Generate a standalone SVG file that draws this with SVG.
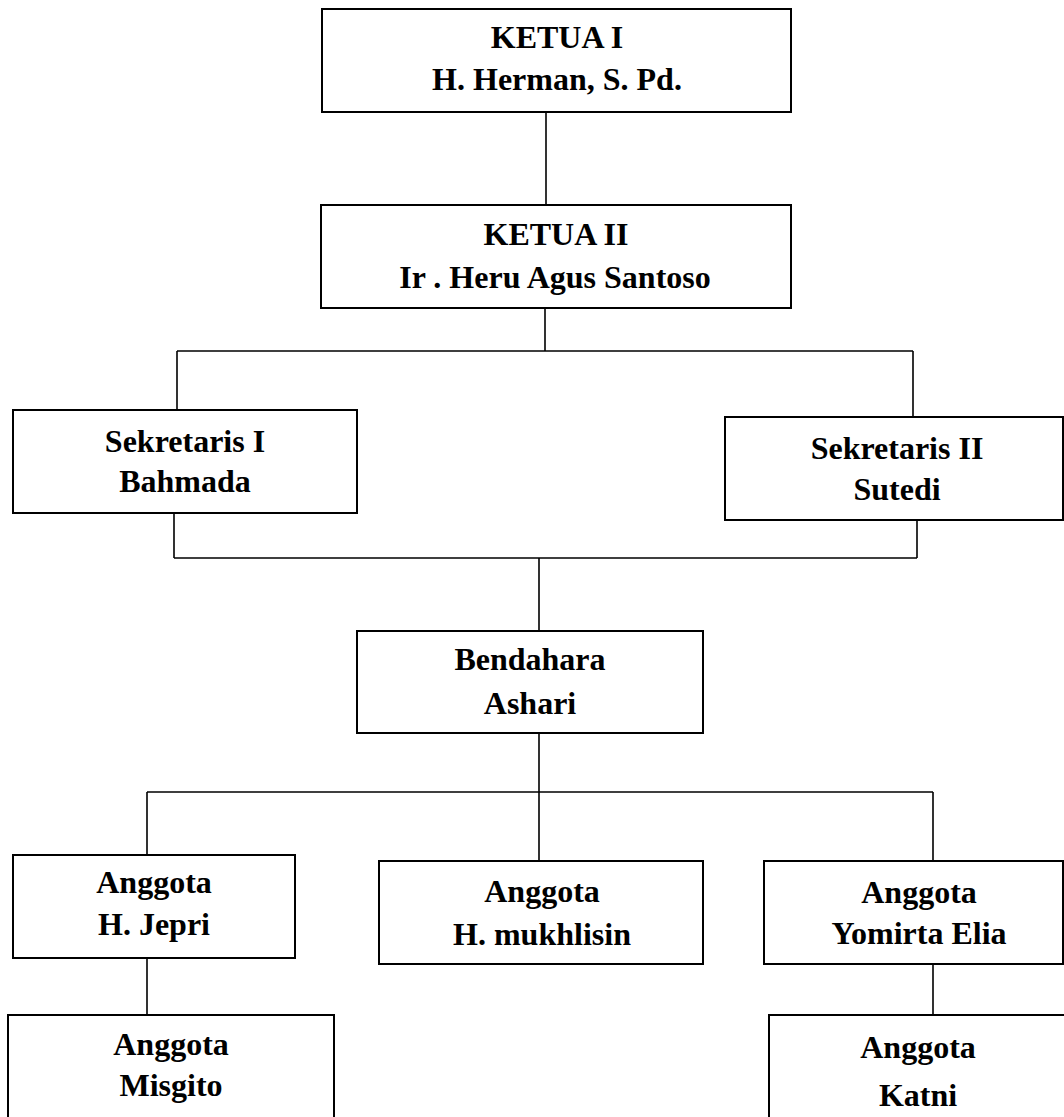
<svg xmlns="http://www.w3.org/2000/svg" width="1064" height="1117" viewBox="0 0 1064 1117">
<style>
.box{fill:#fff;stroke:#000;stroke-width:2}
.ln{fill:none;stroke:#000;stroke-width:1.6}
text{font-family:"Liberation Serif","Times New Roman",serif;font-weight:bold;font-size:32px;fill:#000;text-anchor:middle}
</style>
<rect width="1064" height="1117" fill="#fff"/>
<g id="connectors">
<path class="ln" d="M546 112V205"/>
<path class="ln" d="M545 308V351M177 351H913M177 351V410M913 351V417"/>
<path class="ln" d="M174 513V558M917 520V558M174 558H917M539 558V631"/>
<path class="ln" d="M539 733V862M147 792H933M147 792V855M933 792V862"/>
<path class="ln" d="M147 958V1015M933 964V1015"/>
</g>
<g id="ketua1"><rect class="box" x="322" y="9" width="469" height="103"/><text x="557" y="48">KETUA I</text><text x="557" y="90">H. Herman, S. Pd.</text></g>
<g id="ketua2"><rect class="box" x="321" y="205" width="470" height="103"/><text x="556" y="245">KETUA II</text><text x="555" y="288">Ir . Heru Agus Santoso</text></g>
<g id="sekretaris1"><rect class="box" x="13" y="410" width="344" height="103"/><text x="185" y="452">Sekretaris I</text><text x="185" y="492">Bahmada</text></g>
<g id="sekretaris2"><rect class="box" x="725" y="417" width="338" height="103"/><text x="897" y="459">Sekretaris II</text><text x="897" y="500">Sutedi</text></g>
<g id="bendahara"><rect class="box" x="357" y="631" width="346" height="102"/><text x="530" y="670">Bendahara</text><text x="530" y="714">Ashari</text></g>
<g id="anggota-jepri"><rect class="box" x="13" y="855" width="282" height="103"/><text x="154" y="893">Anggota</text><text x="154" y="935">H. Jepri</text></g>
<g id="anggota-mukhlisin"><rect class="box" x="379" y="861" width="324" height="103"/><text x="542" y="902">Anggota</text><text x="542" y="945">H. mukhlisin</text></g>
<g id="anggota-yomirta"><rect class="box" x="764" y="861" width="299" height="103"/><text x="919" y="903">Anggota</text><text x="919" y="944">Yomirta Elia</text></g>
<g id="anggota-misgito"><rect class="box" x="8" y="1015" width="326" height="120"/><text x="171" y="1055">Anggota</text><text x="171" y="1096">Misgito</text></g>
<g id="anggota-katni"><rect class="box" x="769" y="1015" width="320" height="120"/><text x="918" y="1058">Anggota</text><text x="918" y="1106">Katni</text></g>
</svg>
